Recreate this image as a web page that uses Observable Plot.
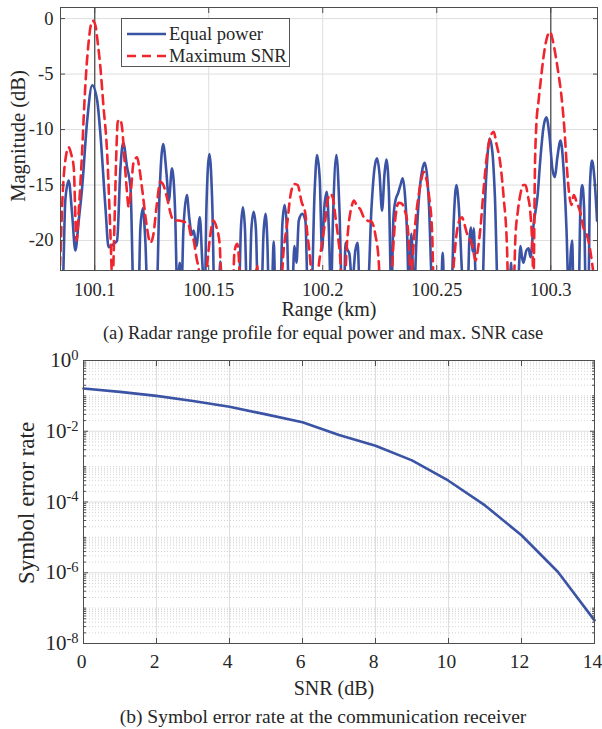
<!DOCTYPE html>
<html>
<head>
<meta charset="utf-8">
<script src="https://cdn.jsdelivr.net/npm/d3@7"></script>
<script src="https://cdn.jsdelivr.net/npm/@observablehq/plot@0.6"></script>
<style>
  body { margin: 0; background: #fff; }
  #fig { position: relative; width: 602px; height: 729px; overflow: hidden; color: #262626; }
  #fig, #fig *, #fig svg text { font-family: "Liberation Serif", "Times New Roman", serif !important; }
  #fig > svg { position: absolute; left: 0; }
  .lbl { position: absolute; white-space: nowrap; font-size: 20px; line-height: 1; }
  .cap { position: absolute; left: 0; width: 646px; text-align: center; font-size: 18.5px; line-height: 1; white-space: nowrap; }
  .rot { transform: translate(-50%, -50%) rotate(-90deg); }
  #legend { position: absolute; left: 121px; top: 18px; width: 167px; height: 47px;
            border: 1px solid #555; background: #fff; }
</style>
</head>
<body>
<div id="fig"></div>
<script>
// ---------- (a) Radar range profile ----------
const equalPowerRangeKm = [
  100.0850,100.0860,100.0871,100.0886,100.0901,100.0915,100.0930,100.0945,100.0967,100.0989,
  100.1011,100.1025,100.1047,100.1061,100.1083,100.1098,100.1113,100.1125,100.1142,100.1157,
  100.1171,100.1192,100.1200,100.1211,100.1222,100.1232,100.1271,100.1284,100.1300,100.1315,
  100.1325,100.1339,100.1352,100.1363,100.1373,100.1380,100.1389,100.1404,100.1415,100.1426,
  100.1434,100.1446,100.1461,100.1472,100.1483,100.1490,100.1503,100.1516,100.1525,100.1543,
  100.1551,100.1560,100.1632,100.1641,100.1650,100.1659,100.1668,100.1678,100.1687,100.1697,
  100.1707,100.1716,100.1731,100.1740,100.1749,100.1757,100.1764,100.1776,100.1785,100.1793,
  100.1814,100.1823,100.1833,100.1843,100.1852,100.1865,100.1876,100.1885,100.1895,100.1910,
  100.1924,100.1935,100.1950,100.1964,100.1975,100.1987,100.1997,100.2007,100.2018,100.2027,
  100.2036,100.2045,100.2060,100.2073,100.2085,100.2093,100.2100,100.2108,100.2117,100.2129,
  100.2143,100.2153,100.2163,100.2196,100.2214,100.2227,100.2238,100.2249,100.2260,100.2271,
  100.2279,100.2290,100.2301,100.2310,100.2319,100.2331,100.2341,100.2351,100.2361,100.2370,
  100.2377,100.2389,100.2400,100.2411,100.2421,100.2435,100.2447,100.2459,100.2465,100.2482,
  100.2518,100.2526,100.2534,100.2564,100.2575,100.2586,100.2597,100.2611,100.2617,100.2635,
  100.2643,100.2650,100.2657,100.2662,100.2670,100.2676,100.2699,100.2711,100.2722,100.2732,
  100.2744,100.2755,100.2769,100.2819,100.2826,100.2832,100.2854,100.2863,100.2867,100.2874,
  100.2880,100.2893,100.2903,100.2911,100.2925,100.2942,100.2955,100.2968,100.2981,100.2994,
  100.3007,100.3018,100.3029,100.3043,100.3056,100.3069,100.3079,100.3088,100.3094,100.3100,
  100.3122,100.3130,100.3138,100.3146,100.3154,100.3165,100.3172,100.3181,100.3192,100.3203
];
const equalPowerDb = [
  -25,-24,-16.4,-14.6,-17.6,-20.9,-18.2,-15.2,-9.2,-6.0,
  -7.4,-10.4,-17,-20.6,-20.3,-20.0,-13.4,-11.2,-13.4,-15.2,
  -25,-25,-19,-17.1,-20,-25,-25,-16,-11.3,-14,
  -16.4,-13.5,-17,-25,-22,-25,-19,-15.9,-18,-19.5,
  -19.1,-20.5,-17.9,-22,-25,-17,-12.2,-17,-25,-25,
  -21.9,-25,-25,-19,-17.0,-19,-25,-25,-19,-17.4,
  -19,-25,-25,-19.5,-17.6,-20,-25,-25,-20.1,-25,
  -25,-18.5,-16.8,-19,-25,-25,-20.5,-22,-18.2,-17.6,
  -18.2,-25,-25,-15.8,-12.3,-14.5,-20.9,-17,-15.6,-19,
  -25,-18,-12.3,-17,-25,-25,-20.2,-20.8,-21.2,-24,
  -20.9,-20.2,-25,-25,-17,-13.5,-12.6,-14,-17.3,-14,
  -12.7,-15.5,-25,-18,-16.4,-15.7,-15,-14.4,-16,-19.4,
  -24,-19.4,-25,-20,-16.4,-13.8,-13.0,-14.5,-16.4,-25,
  -25,-21.1,-25,-25,-18,-15.0,-17,-23,-25,-25,
  -20,-18.8,-21,-18.9,-23,-25,-25,-17,-12.5,-10.8,
  -12,-16,-25,-25,-22,-25,-25,-21.5,-20.5,-21.5,
  -22,-20.9,-20.7,-21.5,-18.5,-16,-12.5,-9.8,-8.9,-10.5,
  -13.5,-14.3,-12.5,-11.0,-13.5,-19,-25,-21,-20,-25,
  -25,-17,-15.0,-17,-25,-25,-15,-12.8,-14.5,-18.2
];
const maxSnrRangeKm = [
  100.0841,100.0850,100.0857,100.0865,100.0871,100.0886,100.0898,100.0908,100.0920,100.0931,
  100.0945,100.0955,100.0964,100.0975,100.0981,100.0992,100.1003,100.1014,100.1025,100.1038,
  100.1054,100.1069,100.1078,100.1086,100.1095,100.1101,100.1111,100.1120,100.1130,100.1141,
  100.1149,100.1159,100.1170,100.1186,100.1196,100.1209,100.1227,100.1244,100.1257,100.1271,
  100.1288,100.1301,100.1320,100.1332,100.1346,100.1367,100.1390,100.1411,100.1420,100.1434,
  100.1446,100.1459,100.1468,100.1481,100.1494,100.1507,100.1521,100.1534,100.1548,100.1558,
  100.1604,100.1613,100.1625,100.1632,100.1639,100.1700,100.1712,100.1720,100.1814,100.1828,
  100.1844,100.1858,100.1876,100.1890,100.1907,100.1924,100.1933,100.1939,100.1946,100.1955,
  100.1972,100.1982,100.1999,100.2012,100.2021,100.2034,100.2045,100.2056,100.2069,100.2078,
  100.2084,100.2095,100.2104,100.2114,100.2126,100.2137,100.2148,100.2165,100.2180,100.2196,
  100.2214,100.2231,100.2246,100.2253,100.2297,100.2308,100.2319,100.2333,100.2348,100.2358,
  100.2370,100.2380,100.2387,100.2393,100.2407,100.2420,100.2429,100.2443,100.2453,100.2465,
  100.2480,100.2488,100.2564,100.2575,100.2589,100.2604,100.2611,100.2621,100.2633,100.2648,
  100.2657,100.2670,100.2679,100.2692,100.2705,100.2721,100.2736,100.2750,100.2761,100.2779,
  100.2793,100.2809,100.2814,100.2836,100.2845,100.2856,100.2867,100.2880,100.2889,100.2900,
  100.2911,100.2920,100.2924,100.2931,100.2937,100.2946,100.2955,100.2968,100.2981,100.2997,
  100.3007,100.3021,100.3034,100.3047,100.3060,100.3071,100.3082,100.3091,100.3101,100.3113,
  100.3130,100.3143,100.3160,100.3174,100.3187,100.3196,100.3205
];
const maxSnrDb = [
  -25,-21.2,-17,-14,-12.8,-11.6,-12.3,-13.4,-20,-17,
  -11.9,-7.5,-4.4,-1.8,-0.8,-0.2,-0.6,-2.3,-4.4,-7.8,
  -11.9,-19.4,-24,-19,-12,-9.3,-9.1,-9.8,-12.5,-15.5,
  -17.0,-15.5,-13,-12.5,-13.5,-15.5,-18.5,-20.2,-19.5,-17,
  -14.7,-15,-16.4,-17.5,-18.2,-18.2,-18.3,-18.5,-19.4,-20,
  -21.5,-23,-25,-25,-22,-19.5,-18.2,-18.8,-20.3,-25,
  -25,-21,-20.3,-21.5,-25,-25,-22.2,-25,-25,-21,
  -18.5,-16,-14.9,-15,-16.5,-17.6,-19.5,-20.5,-22,-25,
  -25,-22.4,-20,-18,-16.4,-15.8,-16.2,-17.9,-20,-22,
  -25,-25,-21,-18.5,-17,-16.4,-16.8,-17.2,-17.9,-18.2,
  -18.3,-19.5,-22,-25,-25,-21,-17.9,-16.6,-16.7,-17.2,
  -18.2,-21,-24,-22,-18.2,-16,-14.9,-13.8,-14.3,-15.8,
  -19.4,-25,-25,-22,-19.1,-18.0,-17.9,-18.5,-19.4,-20,
  -20.5,-21.8,-21,-18.8,-15.5,-12.2,-10.6,-10.2,-11.2,-13.1,
  -16,-21.2,-25,-25,-19.7,-17.3,-15.8,-15.0,-15.0,-16,
  -17.6,-21,-24,-13,-9.5,-7.5,-5.8,-3.5,-1.9,-1.2,
  -1.8,-3.3,-5.0,-7,-10,-13.5,-16,-16.8,-15.9,-16.5,
  -17.5,-18.8,-19.6,-21,-23,-25,-25
];
const targetRangesKm = [100.1, 100.3];
const rangeTicks = [100.1, 100.15, 100.2, 100.25, 100.3];
const magnitudeTicks = [0, -5, -10, -15, -20];
const seriesNames = ["Equal power", "Maximum SNR"];

// ---------- (b) Symbol error rate ----------
const snrDb = [0, 1, 2, 3, 4, 5, 6, 7, 8, 9, 10, 11, 12, 13, 14];
const symbolErrorRate = [0.162, 0.13, 0.10, 0.072, 0.049, 0.030, 0.018, 0.0078, 0.0039,
                         0.0015, 0.0004, 8.0e-5, 1.15e-5, 1.05e-6, 4.5e-8];
const snrTicks = [0, 2, 4, 6, 8, 10, 12, 14];
const serTicks = [1, 1e-2, 1e-4, 1e-6, 1e-8];

const BLUE = "#3a53a4", RED = "#f0252e", FRAME = "#4d4d4d", GRID = "#dedede";
const FONT = "'Liberation Serif', 'Times New Roman', serif";

const fig = document.getElementById("fig");

const ep = equalPowerRangeKm.map((r, i) => ({r, m: equalPowerDb[i]}));
const ms = maxSnrRangeKm.map((r, i) => ({r, m: maxSnrDb[i]}));

const topPlot = Plot.plot({
  width: 602, height: 300,
  marginLeft: 60, marginRight: 5, marginTop: 7, marginBottom: 30,
  style: {fontFamily: FONT, fontSize: "18.5px", color: "#262626", background: "transparent", overflow: "visible"},
  x: {domain: [100.085, 100.3205]},
  y: {domain: [-22.7, 1]},
  marks: [
    Plot.gridX(rangeTicks, {stroke: GRID, strokeOpacity: 1, strokeWidth: 1}),
    Plot.gridY(magnitudeTicks, {stroke: GRID, strokeOpacity: 1, strokeWidth: 1}),
    Plot.ruleX(targetRangesKm, {stroke: "#5a5a5a", strokeWidth: 1.4}),
    Plot.line(ep, {x: "r", y: "m", stroke: BLUE, strokeWidth: 2.6, curve: "monotone-x", clip: true}),
    Plot.line(ms, {x: "r", y: "m", stroke: RED, strokeWidth: 2.6, strokeDasharray: "9,6", curve: "monotone-x", clip: true}),
    Plot.frame({stroke: FRAME, strokeWidth: 1}),
    Plot.axisX(rangeTicks, {anchor: "bottom", tickSize: 0, tickPadding: 12, fontSize: 18.5, tickFormat: d => String(d), label: null}),
    Plot.axisX(rangeTicks, {anchor: "bottom", tickSize: -5, tickFormat: () => "", label: null, stroke: FRAME}),
    Plot.axisX(rangeTicks, {anchor: "top", tickSize: -5, tickFormat: () => "", label: null, stroke: FRAME}),
    Plot.axisY(magnitudeTicks, {anchor: "left", tickSize: 0, tickPadding: 7, fontSize: 18.5, tickFormat: d => String(d), label: null}),
    Plot.axisY(magnitudeTicks, {anchor: "left", tickSize: -5, tickFormat: () => "", label: null, stroke: FRAME}),
    Plot.axisY(magnitudeTicks, {anchor: "right", tickSize: -5, tickFormat: () => "", label: null, stroke: FRAME})
  ]
});
topPlot.style.top = "0px";
fig.appendChild(topPlot);

// minor grid positions for the log axis
const minorSer = [];
for (let e = -8; e < 0; e++) for (let k = 1; k < 10; k++) {
  if (k === 1 && e % 2 === 0) continue;
  minorSer.push(k * Math.pow(10, e));
}
const serData = snrDb.map((s, i) => ({s, p: symbolErrorRate[i]}));

const botPlot = Plot.plot({
  width: 602, height: 360,
  marginLeft: 83, marginRight: 8, marginTop: 20, marginBottom: 57,
  style: {fontFamily: FONT, fontSize: "20px", color: "#262626", background: "transparent", overflow: "visible"},
  x: {domain: [0, 14]},
  y: {type: "log", domain: [1e-8, 1]},
  marks: [
    Plot.gridY(minorSer, {stroke: "#c8c8c8", strokeOpacity: 1, strokeWidth: 0.8, strokeDasharray: "1,2"}),
    Plot.gridY(serTicks, {stroke: GRID, strokeOpacity: 1, strokeWidth: 1}),
    Plot.gridX(snrTicks, {stroke: GRID, strokeOpacity: 1, strokeWidth: 1}),
    Plot.line(serData, {x: "s", y: "p", stroke: BLUE, strokeWidth: 2.6}),
    Plot.frame({stroke: FRAME, strokeWidth: 1}),
    Plot.axisX(snrTicks, {anchor: "bottom", tickSize: 0, tickPadding: 11, fontSize: 19.5, dx: -2, label: null}),
    Plot.axisX(snrTicks, {anchor: "bottom", tickSize: -5, tickFormat: () => "", label: null, stroke: FRAME}),
    Plot.axisX(snrTicks, {anchor: "top", tickSize: -5, tickFormat: () => "", label: null, stroke: FRAME}),
    Plot.axisY(serTicks, {anchor: "left", tickSize: 0, tickPadding: 5, fontSize: 21,
      tickFormat: d => "10^" + String(Math.round(Math.log10(d))), label: null}),
    Plot.axisY(serTicks, {anchor: "left", tickSize: -5, tickFormat: () => "", label: null, stroke: FRAME}),
    Plot.axisY(serTicks, {anchor: "right", tickSize: -5, tickFormat: () => "", label: null, stroke: FRAME}),
    Plot.axisY(minorSer, {anchor: "left", tickSize: -3, tickFormat: () => "", label: null, stroke: FRAME}),
    Plot.axisY(minorSer, {anchor: "right", tickSize: -3, tickFormat: () => "", label: null, stroke: FRAME})
  ]
});
botPlot.style.top = "340px";
fig.appendChild(botPlot);

// superscript exponents on log tick labels
botPlot.querySelectorAll('g[aria-label="y-axis tick label"] text').forEach(t => {
  const s = t.textContent;
  if (!s.startsWith("10^")) return;
  const ex = s.slice(3);
  t.textContent = "";
  const a = document.createElementNS("http://www.w3.org/2000/svg", "tspan");
  a.textContent = "10";
  const b = document.createElementNS("http://www.w3.org/2000/svg", "tspan");
  b.textContent = ex;
  b.setAttribute("dy", "-0.5em");
  b.setAttribute("font-size", "14.5");
  t.appendChild(a); t.appendChild(b);
});

// labels and captions
function addDiv(cls, text, css) {
  const d = document.createElement("div");
  d.className = cls; d.textContent = text;
  Object.assign(d.style, css);
  fig.appendChild(d);
  return d;
}
addDiv("lbl", "Range (km)", {left: "329px", top: "299px", transform: "translateX(-50%)"});
addDiv("lbl rot", "Magnitude (dB)", {left: "18px", top: "136px", fontSize: "20.5px"});
addDiv("cap", "(a) Radar range profile for equal power and max. SNR case", {top: "324px"});
addDiv("lbl", "SNR (dB)", {left: "334px", top: "678px", transform: "translateX(-50%)"});
addDiv("lbl rot", "Symbol error rate", {left: "26px", top: "503px", fontSize: "23px"});
addDiv("cap", "(b) Symbol error rate at the communication receiver", {top: "707px", fontSize: "19.5px"});

// legend
const lg = document.createElement("div");
lg.id = "legend";
lg.innerHTML =
  `<svg width="167" height="47" style="position:absolute;left:0;top:0;font-size:18.5px">
     <line x1="5" x2="44" y1="15" y2="15" stroke="${BLUE}" stroke-width="2.6"/>
     <line x1="5" x2="44" y1="37" y2="37" stroke="${RED}" stroke-width="2.6" stroke-dasharray="9,6"/>
     <text x="47" y="15" dy="0.35em" fill="#262626">${seriesNames[0]}</text>
     <text x="47" y="37" dy="0.35em" fill="#262626">${seriesNames[1]}</text>
   </svg>`;
fig.appendChild(lg);
</script>
</body>
</html>
